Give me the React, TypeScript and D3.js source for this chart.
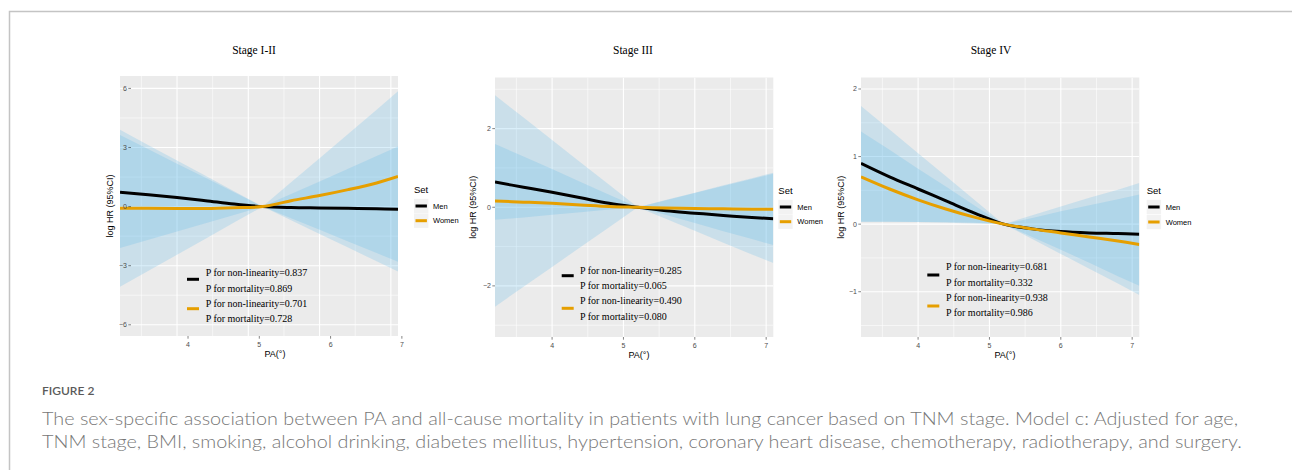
import React from "react";
import * as d3 from "d3";

// PA grid the curves were read at
const pa = [3.2, 3.6, 4.0, 4.4, 4.8, 5.2, 5.6, 6.0, 6.4, 6.8, 7.1];
const xTicks = [4, 5, 6, 7];
const xMinor = [3.5, 4.5, 5.5, 6.5];

// Stage I-II
const s1MenFit = [0.73, 0.6, 0.46, 0.3, 0.13, 0, -0.05, -0.07, -0.09, -0.11, -0.13];
const s1MenLo = [-2.1, -1.68, -1.27, -0.85, -0.43, 0, -0.69, -1.39, -2.08, -2.78, -3.3];
const s1MenHi = [3.64, 2.91, 2.18, 1.46, 0.73, 0, 0.64, 1.28, 1.92, 2.57, 3.05];
const s1WomenFit = [-0.08, -0.09, -0.1, -0.1, -0.06, 0, 0.3, 0.56, 0.86, 1.2, 1.53];
const s1WomenLo = [-4.07, -3.26, -2.44, -1.63, -0.81, 0, -0.59, -1.18, -1.77, -2.36, -2.8];
const s1WomenHi = [3.9, 3.12, 2.34, 1.56, 0.78, 0, 1.23, 2.46, 3.69, 4.92, 5.85];
const s1Ticks = [-6, -3, 0, 3, 6];
const s1P = ["P for non-linearity=0.837", "P for mortality=0.869", "P for non-linearity=0.701", "P for mortality=0.728"];

// Stage III
const s2MenFit = [0.64, 0.51, 0.38, 0.24, 0.1, 0, -0.09, -0.15, -0.21, -0.26, -0.29];
const s2MenLo = [-0.32, -0.26, -0.19, -0.13, -0.06, 0, -0.3, -0.6, -0.9, -1.2, -1.42];
const s2MenHi = [1.61, 1.29, 0.97, 0.64, 0.32, 0, 0.18, 0.36, 0.54, 0.72, 0.85];
const s2WomenFit = [0.16, 0.13, 0.1, 0.06, 0.02, 0, -0.02, -0.03, -0.04, -0.05, -0.05];
const s2WomenLo = [-2.53, -2.02, -1.52, -1.01, -0.51, 0, -0.2, -0.4, -0.61, -0.81, -0.96];
const s2WomenHi = [2.85, 2.28, 1.71, 1.14, 0.57, 0, 0.19, 0.37, 0.56, 0.74, 0.88];
const s2Ticks = [-2, 0, 2];
const s2P = ["P for non-linearity=0.285", "P for mortality=0.065", "P for non-linearity=0.490", "P for mortality=0.080"];

// Stage IV
const s3MenFit = [0.9, 0.7, 0.52, 0.34, 0.16, 0, -0.07, -0.11, -0.13, -0.14, -0.15];
const s3MenLo = [0.04, 0.04, 0.03, 0.03, 0.02, 0, -0.19, -0.38, -0.57, -0.77, -0.91];
const s3MenHi = [1.75, 1.4, 1.05, 0.7, 0.35, 0, 0.13, 0.26, 0.39, 0.51, 0.61];
const s3WomenFit = [0.7, 0.52, 0.36, 0.22, 0.1, 0, -0.07, -0.13, -0.19, -0.25, -0.3];
const s3WomenLo = [0.03, 0.03, 0.03, 0.02, 0.01, 0, -0.22, -0.44, -0.66, -0.88, -1.05];
const s3WomenHi = [1.37, 1.1, 0.82, 0.55, 0.27, 0, 0.09, 0.19, 0.28, 0.37, 0.44];
const s3Ticks = [-1, 0, 1, 2];
const s3P = ["P for non-linearity=0.681", "P for mortality=0.332", "P for non-linearity=0.938", "P for mortality=0.986"];

const stages = [
  { title: "Stage I-II", ticks: s1Ticks, p: s1P, men: [s1MenFit, s1MenLo, s1MenHi], women: [s1WomenFit, s1WomenLo, s1WomenHi] },
  { title: "Stage III", ticks: s2Ticks, p: s2P, men: [s2MenFit, s2MenLo, s2MenHi], women: [s2WomenFit, s2WomenLo, s2WomenHi] },
  { title: "Stage IV", ticks: s3Ticks, p: s3P, men: [s3MenFit, s3MenLo, s3MenHi], women: [s3WomenFit, s3WomenLo, s3WomenHi] },
];

const layouts = [
  { x0: 120, x1: 398, y0: 76, y1: 336, yDom: [-6.57, 6.63], shift: 11, titleX: 254, yLabX: 110, xLabX: 275,
    setX: 414, setY: 190, keyY: [206, 220.7], legX: 187, legTx: 205.7, legY: [272.7, 288, 303, 318.7], legKey: [279.3, 308.7] },
  { x0: 495, x1: 773.3, y0: 77.5, y1: 337, yDom: [-3.3, 3.3], shift: 0, titleX: 633, yLabX: 473.3, xLabX: 639,
    setX: 778.3, setY: 190.7, keyY: [207, 221.7], legX: 561.7, legTx: 580, legY: [270, 285, 300.7, 316], legKey: [275.7, 308.3] },
  { x0: 861, x1: 1139.3, y0: 77.5, y1: 337, yDom: [-1.67, 2.17], shift: 0, titleX: 991, yLabX: 840.7, xLabX: 1005,
    setX: 1146.7, setY: 190.7, keyY: [207, 222], legX: 927.3, legTx: 946, legY: [266.7, 282, 297.3, 312.7], legKey: [275, 306] },
];

const MEN = "#000000";
const WOMEN = "#E69F00";
const BAND = "#56B4E9";
const SANS = "'Liberation Sans', Arial, sans-serif";
const SERIF = "'Liberation Serif', 'Times New Roman', serif";
const CAP = "Lato, 'Open Sans', sans-serif";

function Panel({ stage, lay, idx }: any) {
  const x = d3.scaleLinear().domain([3.2, 7.1]).range([lay.x0, lay.x1]);
  const y = d3.scaleLinear().domain(lay.yDom).range([lay.y1, lay.y0]);
  const step = stage.ticks[1] - stage.ticks[0];
  const yMinor = [stage.ticks[0] - step / 2, ...stage.ticks.map((t: number) => t + step / 2)]
    .filter((v: number) => v > lay.yDom[0] && v < lay.yDom[1]);

  const area = (lo: number[], hi: number[]) =>
    d3.area<number>().x((d) => x(d)).y0((_, i) => y(lo[i])).y1((_, i) => y(hi[i]))(pa) || "";
  const line = (fit: number[]) =>
    d3.line<number>().x((d) => x(d)).y((_, i) => y(fit[i])).curve(d3.curveCatmullRom.alpha(0.5))(pa) || "";

  const clipId = `clip${idx}`;
  const axX = lay.x0 + lay.shift;
  const fmt = (v: number) => (v < 0 ? "\u2212" + Math.abs(v) : String(v));
  const midY = (lay.y0 + lay.y1) / 2;

  return (
    <g>
      <defs>
        <clipPath id={clipId}>
          <rect x={lay.x0} y={lay.y0} width={lay.x1 - lay.x0} height={lay.y1 - lay.y0} />
        </clipPath>
      </defs>
      <text x={lay.titleX} y={54} textAnchor="middle" fontFamily={SERIF} fontSize={11.5} fill="#000">
        {stage.title}
      </text>
      <rect x={lay.x0} y={lay.y0} width={lay.x1 - lay.x0} height={lay.y1 - lay.y0} fill="#EBEBEB" />
      <g clipPath={`url(#${clipId})`}>
        {xMinor.map((v) => (
          <line key={"xm" + v} x1={x(v)} x2={x(v)} y1={lay.y0} y2={lay.y1} stroke="#fff" strokeWidth={0.55} />
        ))}
        {yMinor.map((v: number) => (
          <line key={"ym" + v} x1={lay.x0} x2={lay.x1} y1={y(v)} y2={y(v)} stroke="#fff" strokeWidth={0.55} />
        ))}
        {xTicks.map((v) => (
          <line key={"xg" + v} x1={x(v)} x2={x(v)} y1={lay.y0} y2={lay.y1} stroke="#fff" strokeWidth={1.1} />
        ))}
        {stage.ticks.map((v: number) => (
          <line key={"yg" + v} x1={lay.x0} x2={lay.x1} y1={y(v)} y2={y(v)} stroke="#fff" strokeWidth={1.1} />
        ))}
        <path d={area(stage.women[1], stage.women[2])} fill={BAND} fillOpacity={0.22} />
        <path d={area(stage.men[1], stage.men[2])} fill={BAND} fillOpacity={0.22} />
        <path d={line(stage.men[0])} fill="none" stroke={MEN} strokeWidth={3} />
        <path d={line(stage.women[0])} fill="none" stroke={WOMEN} strokeWidth={3} />
      </g>
      {stage.ticks.map((v: number) => (
        <g key={"yt" + v}>
          <line x1={axX - 2.7} x2={axX} y1={y(v)} y2={y(v)} stroke="#333" strokeWidth={0.6} />
          <text x={axX - 4} y={y(v) + 2.4} textAnchor="end" fontFamily={SANS} fontSize={7} fill="#4D4D4D">
            {fmt(v)}
          </text>
        </g>
      ))}
      {xTicks.map((v) => (
        <g key={"xt" + v}>
          <line x1={x(v) + lay.shift} x2={x(v) + lay.shift} y1={lay.y1} y2={lay.y1 + 2.7} stroke="#333" strokeWidth={0.6} />
          <text x={x(v) + lay.shift} y={lay.y1 + 10.5} textAnchor="middle" fontFamily={SANS} fontSize={7} fill="#4D4D4D">
            {fmt(v)}
          </text>
        </g>
      ))}
      <text x={lay.xLabX} y={lay.y1 + 21} textAnchor="middle" fontFamily={SANS} fontSize={9} fill="#000">
        PA(°)
      </text>
      <text transform={`translate(${lay.yLabX},${midY}) rotate(-90)`} textAnchor="middle" dy="0.35em" fontFamily={SANS} fontSize={9} fill="#000">
        log HR (95%CI)
      </text>
      <text x={lay.setX} y={lay.setY + 3.4} fontFamily={SANS} fontSize={9.5} fill="#000">
        Set
      </text>
      {[["Men", MEN], ["Women", WOMEN]].map(([name, col], i) => (
        <g key={name}>
          <rect x={lay.setX} y={lay.keyY[i] - 7.2} width={14.4} height={14.4} fill="#F2F2F2" />
          <line x1={lay.setX + 1.5} x2={lay.setX + 12.9} y1={lay.keyY[i]} y2={lay.keyY[i]} stroke={col} strokeWidth={3} />
          <text x={lay.setX + 19} y={lay.keyY[i] + 2.6} fontFamily={SANS} fontSize={7.5} fill="#000">
            {name}
          </text>
        </g>
      ))}
      {[MEN, WOMEN].map((col, i) => (
        <line key={"pk" + i} x1={lay.legX} x2={lay.legX + 12} y1={lay.legKey[i]} y2={lay.legKey[i]} stroke={col} strokeWidth={3} />
      ))}
      {stage.p.map((t: string, i: number) => (
        <text key={"pt" + i} x={lay.legTx} y={lay.legY[i] + 3.5} fontFamily={SERIF} fontSize={10} fill="#000">
          {t}
        </text>
      ))}
    </g>
  );
}

export default function App() {
  return (
    <svg width={1292} height={470} style={{ position: "absolute", left: 0, top: 0, background: "#fff" }}>
      <rect width={1292} height={470} fill="#fff" />
      <path d="M9.5,470 L9.5,11.5 L1292,11.5" fill="none" stroke="#c4c4c4" strokeWidth={1.5} />
      {stages.map((s, i) => (
        <Panel key={s.title} stage={s} lay={layouts[i]} idx={i} />
      ))}
      <text x={42} y={395} fontFamily={CAP} fontWeight={600} fontSize={12} fill="#5a5a5a">
        FIGURE 2
      </text>
      <text x={42} y={425} fontFamily={CAP} fontWeight={300} fontSize={17} fill="#777" textLength={1196} lengthAdjust="spacingAndGlyphs">
        The sex-specific association between PA and all-cause mortality in patients with lung cancer based on TNM stage. Model c: Adjusted for age,
      </text>
      <text x={42} y={448} fontFamily={CAP} fontWeight={300} fontSize={17} fill="#777" textLength={1200} lengthAdjust="spacingAndGlyphs">
        TNM stage, BMI, smoking, alcohol drinking, diabetes mellitus, hypertension, coronary heart disease, chemotherapy, radiotherapy, and surgery.
      </text>
    </svg>
  );
}
